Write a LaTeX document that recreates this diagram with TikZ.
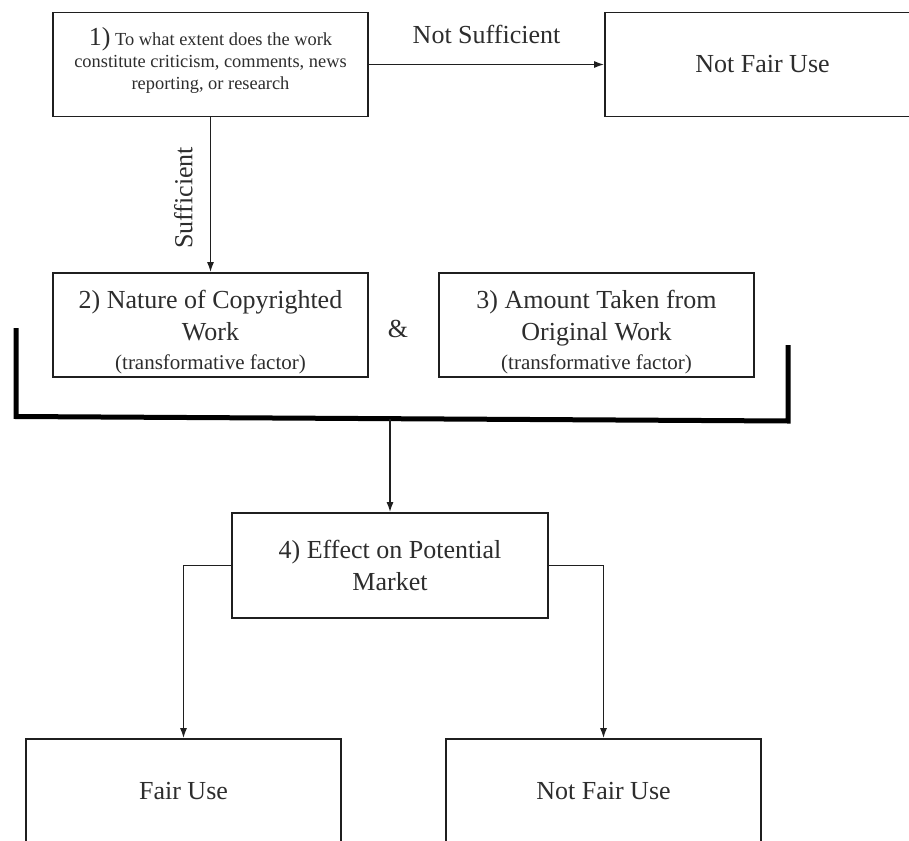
\documentclass[tikz,border=0pt]{standalone}
\usepackage{fontspec}
\setmainfont{Liberation Serif}
\usetikzlibrary{arrows.meta,positioning,calc}
\definecolor{tinta}{RGB}{45,45,45}
\colorlet{borde}{black!88}

\tikzset{
  caja/.style={draw=borde,line width=1.6pt,minimum width=315pt,minimum height=104pt,
    align=center,text=tinta,font=\fontsize{26}{32}\selectfont,inner sep=2pt},
  flecha/.style={-{Latex[length=10pt,width=7pt]},line width=1.6pt,borde},
  etiqueta/.style={text=tinta,font=\fontsize{26}{32}\selectfont,inner sep=0pt},
  llave/.style={line width=5pt,black,line join=miter},
}
\newcommand{\chico}{\fontsize{21}{27}\selectfont}

\begin{document}
\begin{tikzpicture}[x=1pt,y=-1pt]
  \clip (0,0) rectangle (909,840);
  \fill[white] (0,0) rectangle (909,840);
  % factor 1
  \node[caja,font=\fontsize{18.4}{22.3}\selectfont] (crit) at (210.5,64.5)
    {{\fontsize{26}{22}\selectfont 1)} To what extent does the work\\
     constitute criticism, comments, news\\
     reporting, or research\rule[-12pt]{0pt}{1pt}};
  \node[caja] (nofair1) at (762.5,64.5) {Not Fair Use};
  % factores 2 y 3
  \node[caja] (natur) at (210.5,325) {\rule{0pt}{33pt}2) Nature of Copyrighted\\ Work\\[-3pt] {\chico (transformative factor)}};
  \node[caja] (monto) at (596.5,325) {\rule{0pt}{33pt}3) Amount Taken from\\ Original Work\\[-3pt] {\chico (transformative factor)}};
  \node[etiqueta] (amp) at (398,329) {\&};
  % factor 4 y resultados
  \node[caja,minimum width=316pt,minimum height=105pt] (efecto) at (390,565.5) {4) Effect on Potential\\ Market};
  \node[caja,minimum height=105pt] (fair) at (183.5,791.5) {Fair Use};
  \node[caja,minimum height=105pt] (nofair2) at (603.5,791.5) {Not Fair Use};

  % llave que junta 2 y 3
  \coordinate (llA) at (16,328);
  \coordinate (llB) at (16,416.5);
  \coordinate (llC) at (788,421);
  \coordinate (llD) at (788,345);
  \coordinate (llM) at ($(llB)!0.481!(llC)$);
  \draw[llave] (llA) -- (llB) -- (llC) -- (llD);

  \draw[flecha] (crit) -- node[etiqueta,above=20pt]{Not Sufficient} (nofair1);
  \draw[flecha] (crit) -- node[etiqueta,xshift=-17pt,rotate=90,anchor=south,pos=0.52]{Sufficient} (natur);
  \draw[flecha] (efecto.north |- llM) -- (efecto.north);
  \draw[flecha] (efecto.west) -| (fair.north);
  \draw[flecha] (efecto.east) -| (nofair2.north);
\end{tikzpicture}
\end{document}
